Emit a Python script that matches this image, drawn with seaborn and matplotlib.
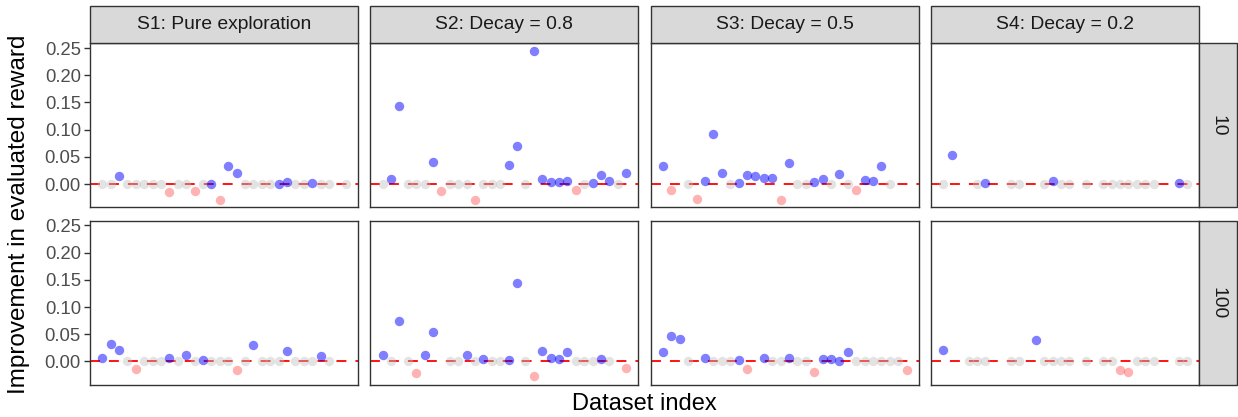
import numpy as np
import pandas as pd
import seaborn as sns
import matplotlib.pyplot as plt
from matplotlib.patches import Rectangle

# ---------------- data ----------------
dataset_index = list(range(1, 31))
strategies = ["S1: Pure exploration", "S2: Decay = 0.8", "S3: Decay = 0.5", "S4: Decay = 0.2"]
budgets = ["10", "100"]
N = None

s1_10 = [0, 0, 0.015, 0, 0, 0, 0, 0, -0.015, 0, 0, -0.012, 0, 0.001, -0.029, 0.033, 0.021, 0, 0, 0,
         0, 0.001, 0.004, 0, 0, 0.002, 0, 0, N, 0]
s2_10 = [0, 0.009, 0.144, 0, 0, 0, 0.040, -0.012, 0, 0, 0, -0.029, 0, 0, 0, 0.035, 0.070, 0, 0.245, 0.009,
         0.003, 0.004, 0.005, -0.011, 0, 0.002, 0.016, 0.005, 0, 0.021]
s3_10 = [0.033, -0.011, N, 0, -0.027, 0.006, 0.092, 0.021, 0, 0.0025, 0.016, 0.014, 0.011, 0.0115, -0.029,
         0.039, 0, 0, 0.004, 0.010, 0, 0.019, 0, -0.010, 0.008, 0.006, 0.033, 0, N, N]
s4_10 = [0, 0.054, N, N, 0, 0.002, N, N, 0, 0, N, N, 0, 0.005, 0, 0, N, 0, N, 0,
         0, 0, 0, 0, 0, 0, N, N, 0.0025, 0]

s1_100 = [0.006, 0.032, 0.021, 0, -0.013, 0, 0, 0, 0.007, 0, 0.0115, 0, 0.002, 0, 0, 0, -0.016, 0, 0.030, 0,
          0, 0, 0.019, 0, 0, 0, 0.0097, 0, N, N]
s2_100 = [0.0115, 0, 0.075, 0, -0.022, 0.0115, 0.055, N, 0, 0, 0.0115, 0, 0.004, 0, 0, 0.0025, 0.145, 0,
          -0.027, 0.019, 0.0055, 0.004, 0.0165, 0, 0, 0, 0.005, 0, N, -0.012]
s3_100 = [0.0165, 0.046, 0.042, 0, N, 0.007, 0, 0, 0, 0.003, -0.013, N, 0.006, 0, 0, 0.006, 0, 0, -0.019,
          0.005, 0.005, 0.001, 0.0165, 0, 0, 0, 0, 0, 0, -0.016]
s4_100 = [0.021, N, N, 0, 0, 0, N, N, 0, 0, N, 0.040, 0, 0, 0, 0, N, 0, N, 0,
          0, -0.015, -0.019, 0, 0, 0, N, N, 0, 0]

panel_values = {
    ("10", strategies[0]): s1_10, ("10", strategies[1]): s2_10,
    ("10", strategies[2]): s3_10, ("10", strategies[3]): s4_10,
    ("100", strategies[0]): s1_100, ("100", strategies[1]): s2_100,
    ("100", strategies[2]): s3_100, ("100", strategies[3]): s4_100,
}

rows = []
for (b, s), vals in panel_values.items():
    for i, v in zip(dataset_index, vals):
        if v is None:
            continue
        sign = "pos" if v > 0 else ("neg" if v < 0 else "zero")
        rows.append({"budget": b, "strategy": s, "idx": i, "improvement": v, "sign": sign})
df = pd.DataFrame(rows)

# ---------------- styling ----------------
sns.set_theme(style="white")
plt.rcParams['font.family'] = ['Liberation Sans', 'DejaVu Sans']

W, H, DPI = 1238, 417, 100
fig, axes = plt.subplots(2, 4, figsize=(W / DPI, H / DPI), dpi=DPI, sharex=True, sharey=True)
fig.subplots_adjust(left=90 / W, right=1199.3 / W, top=1 - 43.3 / H, bottom=1 - 384.7 / H,
                    wspace=0.0463, hspace=0.0817)

sign_style = {"zero": ("#BEBEBE", 0.42), "neg": ("#FF0000", 0.30), "pos": ("#0000FF", 0.50)}

xmin, xmax = min(dataset_index), max(dataset_index)
xr = xmax - xmin
ymin, ymax = df["improvement"].min(), df["improvement"].max()
yr = ymax - ymin

for r, b in enumerate(budgets):
    for c, s in enumerate(strategies):
        ax = axes[r, c]
        sub = df[(df["budget"] == b) & (df["strategy"] == s)]
        ax.axhline(0, color="#FF0000", lw=1.3, ls=(0, (5.5, 5)), zorder=1)
        for sg in ["zero", "neg", "pos"]:
            d = sub[sub["sign"] == sg]
            col, a = sign_style[sg]
            sns.scatterplot(data=d, x="idx", y="improvement", ax=ax, color=col, alpha=a,
                            s=46, linewidth=0, zorder=3, legend=False)
        ax.set_xlim(xmin - 0.05 * xr, xmax + 0.05 * xr)
        ax.set_ylim(ymin - 0.05 * yr, ymax + 0.05 * yr)
        ax.set_xlabel("")
        ax.set_ylabel("")
        ax.tick_params(axis="x", bottom=False, labelbottom=False)
        for sp in ax.spines.values():
            sp.set_color("#333333")
            sp.set_linewidth(1.0)
            sp.set_visible(True)
        ax.grid(False)

yticks = [0.0, 0.05, 0.10, 0.15, 0.20, 0.25]
for r in range(2):
    ax = axes[r, 0]
    ax.set_yticks(yticks)
    ax.set_yticklabels([f"{t:.2f}" for t in yticks])
    ax.tick_params(axis="y", left=True, length=4, width=1.0, color="#333333",
                   labelsize=13.3, labelcolor="#4D4D4D", pad=2.5)
for r in range(2):
    for c in range(1, 4):
        axes[r, c].tick_params(axis="y", left=False, labelleft=False)

# strips
strip_h = 37.3 / H
strip_w = 37.4 / W
for c, s in enumerate(strategies):
    pos = axes[0, c].get_position()
    fig.add_artist(Rectangle((pos.x0, pos.y1), pos.width, strip_h, transform=fig.transFigure,
                             facecolor="#D9D9D9", edgecolor="#333333", lw=1.0, zorder=5))
    fig.text(pos.x0 + pos.width / 2, pos.y1 + strip_h / 2, s, ha="center", va="center",
             fontsize=13.9, color="#1A1A1A", zorder=6)
for r, b in enumerate(budgets):
    pos = axes[r, 3].get_position()
    fig.add_artist(Rectangle((pos.x1, pos.y0), strip_w, pos.height, transform=fig.transFigure,
                             facecolor="#D9D9D9", edgecolor="#333333", lw=1.0, zorder=5))
    fig.text(pos.x1 + strip_w / 2, pos.y0 + pos.height / 2, b, ha="center", va="center",
             rotation=270, fontsize=13.9, color="#1A1A1A", zorder=6)

# axis titles
p0 = axes[0, 0].get_position()
p1 = axes[1, 3].get_position()
fig.text((p0.x0 + p1.x1) / 2, 1 - 404 / H, "Dataset index", ha="center", va="center",
         fontsize=17, color="black")
fig.text(19 / W, (p0.y1 + p1.y0) / 2, "Improvement in evaluated reward", ha="center", va="center",
         rotation=90, fontsize=17.5, color="black")

fig.savefig("out.png", dpi=DPI, facecolor="white")
